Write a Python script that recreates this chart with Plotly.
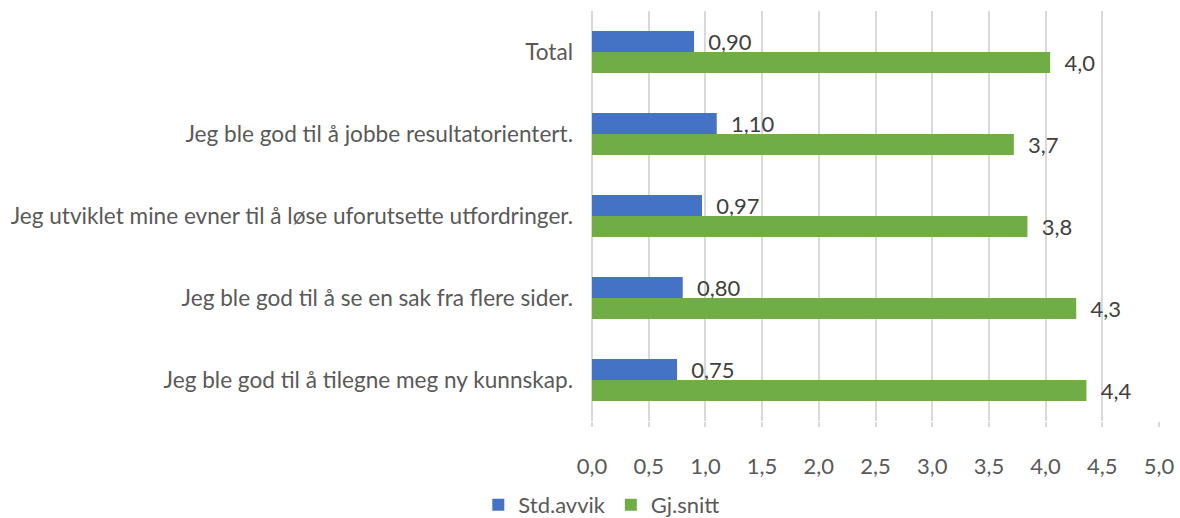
import plotly.graph_objects as go

categories = [
    "Total",
    "Jeg ble god til å jobbe resultatorientert.",
    "Jeg utviklet mine evner til å løse uforutsette utfordringer.",
    "Jeg ble god til å se en sak fra flere sider.",
    "Jeg ble god til å tilegne meg ny kunnskap.",
]
std_avvik = [0.90, 1.10, 0.97, 0.80, 0.75]
gj_snitt = [4.04, 3.72, 3.84, 4.27, 4.36]
tick_vals = [0, 0.5, 1, 1.5, 2, 2.5, 3, 3.5, 4, 4.5, 5]

FONT = "Lato"
FS = 22
pad = "\u00a0\u00a0"

fig = go.Figure()
fig.add_trace(go.Bar(
    name="Std.avvik", y=categories, x=std_avvik, orientation="h",
    marker=dict(color="#4472C4", line=dict(width=0)),
    texttemplate=pad + "%{x:.2f}", textposition="outside",
    textfont=dict(size=FS, color="#404040", family=FONT),
    constraintext="none", cliponaxis=False,
))
fig.add_trace(go.Bar(
    name="Gj.snitt", y=categories, x=gj_snitt, orientation="h",
    marker=dict(color="#70AD47", line=dict(width=0)),
    texttemplate=pad + "%{x:.1f}", textposition="outside",
    textfont=dict(size=FS, color="#404040", family=FONT),
    constraintext="none", cliponaxis=False,
))

fig.update_layout(
    width=1180, height=518,
    barmode="group", bargap=0.49, bargroupgap=0,
    separators=", ",
    paper_bgcolor="white", plot_bgcolor="white",
    margin=dict(l=592, r=21, t=11, b=97, autoexpand=False),
    font=dict(family=FONT, size=FS, color="#595959"),
    showlegend=True,
    legend=dict(
        orientation="h", xref="container", yref="container",
        x=0.51, y=0.025, xanchor="center", yanchor="middle",
        font=dict(size=FS, color="#595959", family=FONT),
        tracegroupgap=0, itemwidth=30,
    ),
    xaxis=dict(
        range=[0, 5], tickvals=tick_vals, tickformat=".1f",
        showgrid=True, gridcolor="#d9d9d9", gridwidth=2,
        zeroline=True, zerolinecolor="#d9d9d9", zerolinewidth=2,
        ticks="outside", ticklen=5, tickwidth=2, tickcolor="#d9d9d9",
        ticklabelstandoff=21, showline=False, automargin=False,
        tickfont=dict(size=FS, color="#595959", family=FONT),
    ),
    yaxis=dict(
        autorange="reversed", showgrid=False, showline=False,
        ticks="", ticklabelstandoff=18, automargin=False,
        tickfont=dict(size=22.6, color="#595959", family=FONT),
    ),
)

fig.write_html(
    "out.html",
    config={"displayModeBar": False},
    post_script="document.body.style.margin='0';document.body.style.overflow='hidden';",
)
